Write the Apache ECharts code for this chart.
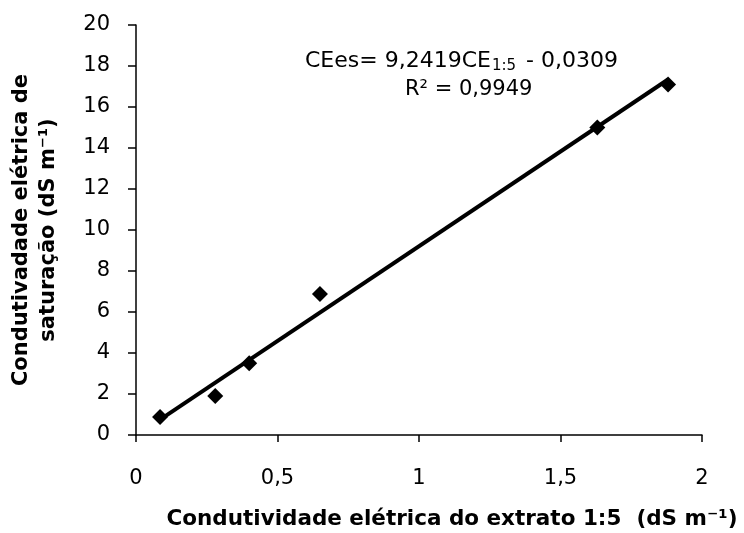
<!DOCTYPE html>
<html>
<head>
<meta charset="utf-8">
<script src="https://cdn.jsdelivr.net/npm/echarts@6/dist/echarts.min.js"></script>
<style>
  html, body { margin: 0; padding: 0; background: #fff; }
  #main { width: 744px; height: 533px; }
</style>
</head>
<body>
<div id="main"></div>
<script>
// pontos medidos: CE 1:5 (x) e CEes (y)
const ce15 = [0.085, 0.28, 0.40, 0.65, 1.63, 1.88];
const ceEs = [0.88, 1.9, 3.5, 6.88, 15.0, 17.1];
// reta de ajuste CEes = 9,2419 CE1:5 - 0,0309 (extremos)
const trendX = [0.085, 1.88];
const trendY = [0.75, 17.34];
const xTicks = ["0", "0,5", "1", "1,5", "2"];

const points = ce15.map((x, i) => [x, ceEs[i]]);
const trend = trendX.map((x, i) => [x, trendY[i]]);

let myChart = echarts.init(document.getElementById("main"));

const font = "'DejaVu Sans', Arial, sans-serif";

let option = {
  animation: false,
  grid: {
    left: 136,
    right: 42,
    top: 25,
    bottom: 98,
    containLabel: false,
    outerBoundsMode: "none"
  },
  xAxis: {
    type: "value",
    min: 0,
    max: 2,
    interval: 0.5,
    name: "Condutividade elétrica do extrato 1:5  (dS m⁻¹)",
    nameLocation: "middle",
    nameGap: 73,
    nameTextStyle: {
      color: "#000",
      fontFamily: font,
      fontWeight: "bold",
      fontSize: 21.5,
      padding: [0, 0, 0, 66]
    },
    axisLine: { onZero: false, lineStyle: { color: "#000", width: 1.5 } },
    axisTick: { show: true, inside: false, length: 7, lineStyle: { color: "#000", width: 1.5 } },
    splitLine: { show: false },
    axisLabel: {
      color: "#000",
      fontFamily: font,
      fontSize: 21,
      margin: 33,
      formatter: (v) => xTicks[Math.round(v / 0.5)]
    }
  },
  yAxis: {
    type: "value",
    min: 0,
    max: 20,
    interval: 2,
    name: "Condutivadade elétrica de\nsaturação (dS m⁻¹)",
    nameLocation: "middle",
    nameGap: 74,
    nameTextStyle: {
      color: "#000",
      fontFamily: font,
      fontWeight: "bold",
      fontSize: 21,
      lineHeight: 27
    },
    axisLine: { show: true, lineStyle: { color: "#000", width: 1.5 } },
    axisTick: { show: true, inside: false, length: 8, lineStyle: { color: "#000", width: 1.5 } },
    splitLine: { show: false },
    axisLabel: {
      color: "#000",
      fontFamily: font,
      fontSize: 21,
      margin: 26
    }
  },
  graphic: [
    {
      type: "text",
      left: 305,
      top: 50,
      style: {
        text: "CEes= 9,2419CE{sub|1:5} - 0,0309",
        fill: "#000",
        font: "22px 'DejaVu Sans', Arial, sans-serif",
        rich: {
          sub: { fontSize: 15, fontFamily: font, verticalAlign: "bottom", padding: [11, 3, 0, 1], fill: "#000" }
        }
      }
    },
    {
      type: "text",
      left: 405,
      top: 79,
      style: {
        text: "R² = 0,9949",
        fill: "#000",
        font: "21px 'DejaVu Sans', Arial, sans-serif"
      }
    }
  ],
  series: [
    {
      name: "ajuste",
      type: "line",
      data: trend,
      symbol: "none",
      lineStyle: { color: "#000", width: 4 },
      z: 2
    },
    {
      name: "dados",
      type: "scatter",
      data: points,
      symbol: "diamond",
      symbolSize: [16, 16],
      itemStyle: { color: "#000", opacity: 1 },
      z: 3
    }
  ]
};

myChart.setOption(option);
</script>
</body>
</html>
